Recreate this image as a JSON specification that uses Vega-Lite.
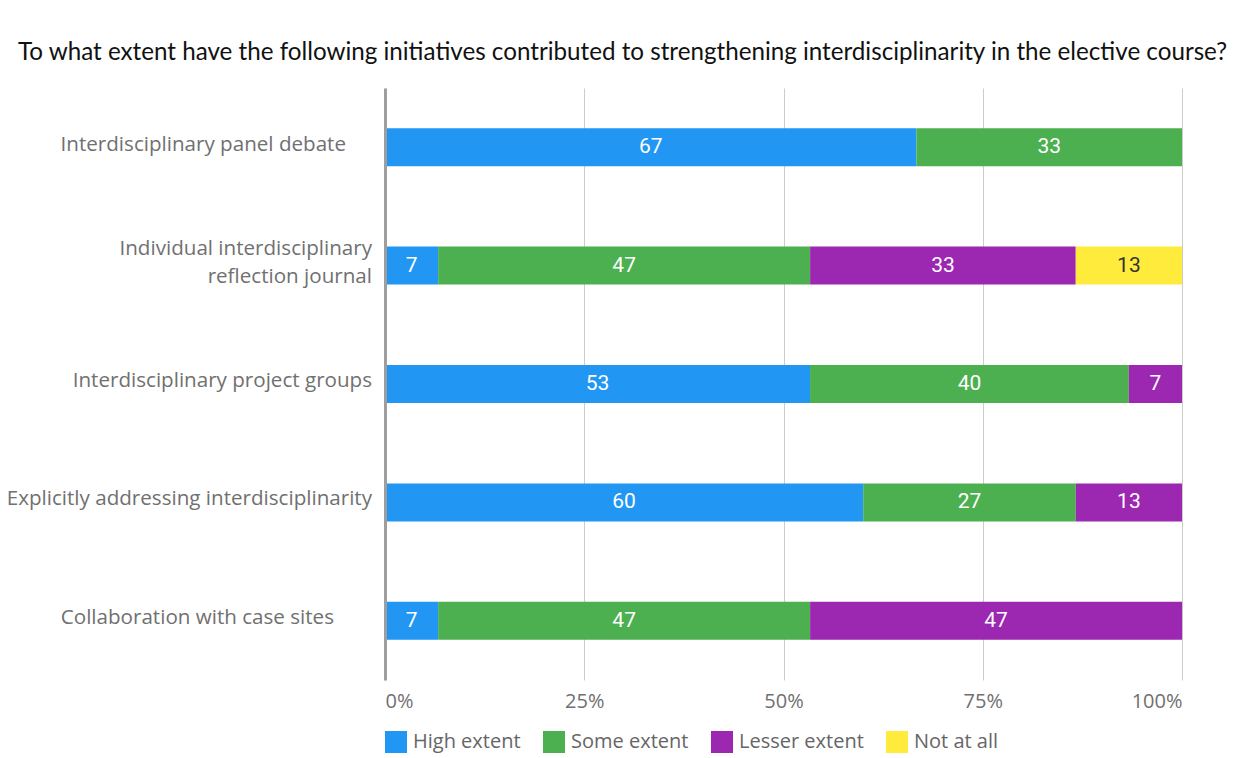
{
  "$schema": "https://vega.github.io/schema/vega-lite/v6.json",
  "width": 797,
  "height": 592,
  "autosize": "none",
  "padding": {"left": 385, "top": 88, "right": 59, "bottom": 78},
  "background": "white",
  "config": {"view": {"stroke": null}},
  "title": {
    "text": "To what extent have the following initiatives contributed to strengthening interdisciplinarity in the elective course?",
    "anchor": "start",
    "frame": "group",
    "dx": -367,
    "offset": 23,
    "font": "Lato",
    "fontSize": 24.2,
    "fontWeight": "normal",
    "color": "#111111",
    "limit": 2000
  },
  "data": {
    "values": [
      {"initiative": "Interdisciplinary panel debate", "extent": "High extent", "o": 1, "value": 66.67},
      {"initiative": "Interdisciplinary panel debate", "extent": "Some extent", "o": 2, "value": 33.33},
      {"initiative": "Individual interdisciplinary|reflection journal", "extent": "High extent", "o": 1, "value": 6.67},
      {"initiative": "Individual interdisciplinary|reflection journal", "extent": "Some extent", "o": 2, "value": 46.67},
      {"initiative": "Individual interdisciplinary|reflection journal", "extent": "Lesser extent", "o": 3, "value": 33.33},
      {"initiative": "Individual interdisciplinary|reflection journal", "extent": "Not at all", "o": 4, "value": 13.33},
      {"initiative": "Interdisciplinary project groups", "extent": "High extent", "o": 1, "value": 53.33},
      {"initiative": "Interdisciplinary project groups", "extent": "Some extent", "o": 2, "value": 40.0},
      {"initiative": "Interdisciplinary project groups", "extent": "Lesser extent", "o": 3, "value": 6.67},
      {"initiative": "Explicitly addressing interdisciplinarity", "extent": "High extent", "o": 1, "value": 60.0},
      {"initiative": "Explicitly addressing interdisciplinarity", "extent": "Some extent", "o": 2, "value": 26.67},
      {"initiative": "Explicitly addressing interdisciplinarity", "extent": "Lesser extent", "o": 3, "value": 13.33},
      {"initiative": "Collaboration with case sites", "extent": "High extent", "o": 1, "value": 6.67},
      {"initiative": "Collaboration with case sites", "extent": "Some extent", "o": 2, "value": 46.67},
      {"initiative": "Collaboration with case sites", "extent": "Lesser extent", "o": 3, "value": 46.67}
    ]
  },
  "encoding": {
    "y": {
      "field": "initiative",
      "type": "nominal",
      "sort": null,
      "title": null,
      "scale": {"paddingInner": 0, "paddingOuter": 0},
      "axis": {
        "labels": false,
        "ticks": false,
        "domainColor": "#9e9e9e",
        "domainWidth": 3,
        "zindex": 1
      }
    },
    "x": {
      "field": "value",
      "type": "quantitative",
      "stack": "zero",
      "title": null,
      "scale": {"domain": [0, 100], "nice": false},
      "axis": {
        "values": [0, 25, 50, 75, 100],
        "labelExpr": "datum.value + '%'",
        "labelFont": "Open Sans",
        "labelFontSize": 20,
        "labelColor": "#707070",
        "labelPadding": 11,
        "ticks": false,
        "domain": false,
        "grid": true,
        "gridColor": "#cccccc",
        "gridWidth": 1
      }
    },
    "order": {"field": "o", "type": "quantitative"}
  },
  "layer": [
    {
      "mark": {"type": "bar", "size": 38},
      "encoding": {
        "color": {
          "field": "extent",
          "type": "nominal",
          "scale": {
            "domain": ["High extent", "Some extent", "Lesser extent", "Not at all"],
            "range": ["#2196F3", "#4CAF50", "#9C27B0", "#FFEB3B"]
          },
          "legend": {
            "title": null,
            "orient": "none",
            "legendX": 0,
            "legendY": 643,
            "direction": "horizontal",
            "symbolType": "square",
            "symbolSize": 484,
            "symbolStrokeWidth": 0,
            "symbolOpacity": 1,
            "labelFont": "Open Sans",
            "labelFontSize": 20,
            "labelColor": "#666666",
            "labelOffset": 6,
            "columnPadding": 22,
            "labelLimit": 300
          }
        }
      }
    },
    {
      "mark": {"type": "text", "font": "Roboto", "fontSize": 21, "baseline": "middle", "align": "center"},
      "encoding": {
        "x": {"field": "value", "type": "quantitative", "stack": "zero", "bandPosition": 0.5},
        "text": {"field": "value", "type": "quantitative", "format": ".0f"},
        "color": {
          "condition": {"test": "datum.extent === 'Not at all'", "value": "#333333"},
          "value": "white"
        }
      }
    },
    {
      "transform": [{"filter": "datum.o === 1 && indexof(datum.initiative, 'panel') >= 0"}],
      "mark": {"type": "text", "font": "Open Sans", "fontSize": 20.6, "color": "#707070", "align": "right", "baseline": "middle", "dx": -39, "dy": -2, "lineBreak": "|", "lineHeight": 28},
      "encoding": {
        "x": {"datum": 0, "type": "quantitative"},
        "text": {"field": "initiative"}
      }
    },
    {
      "transform": [{"filter": "datum.o === 1 && indexof(datum.initiative, 'Collaboration') >= 0"}],
      "mark": {"type": "text", "font": "Open Sans", "fontSize": 20.6, "color": "#707070", "align": "right", "baseline": "middle", "dx": -51, "dy": -3, "lineBreak": "|", "lineHeight": 28},
      "encoding": {
        "x": {"datum": 0, "type": "quantitative"},
        "text": {"field": "initiative"}
      }
    },
    {
      "transform": [{"filter": "datum.o === 1 && indexof(datum.initiative, 'reflection') >= 0"}],
      "mark": {"type": "text", "font": "Open Sans", "fontSize": 20.6, "color": "#707070", "align": "right", "baseline": "middle", "dx": -13, "dy": -17, "lineBreak": "|", "lineHeight": 28},
      "encoding": {
        "x": {"datum": 0, "type": "quantitative"},
        "text": {"field": "initiative"}
      }
    },
    {
      "transform": [{"filter": "datum.o === 1 && (indexof(datum.initiative, 'project') >= 0 || indexof(datum.initiative, 'Explicitly') >= 0)"}],
      "mark": {"type": "text", "font": "Open Sans", "fontSize": 20.6, "color": "#707070", "align": "right", "baseline": "middle", "dx": -13, "dy": -3, "lineBreak": "|", "lineHeight": 28},
      "encoding": {
        "x": {"datum": 0, "type": "quantitative"},
        "text": {"field": "initiative"}
      }
    }
  ]
}
